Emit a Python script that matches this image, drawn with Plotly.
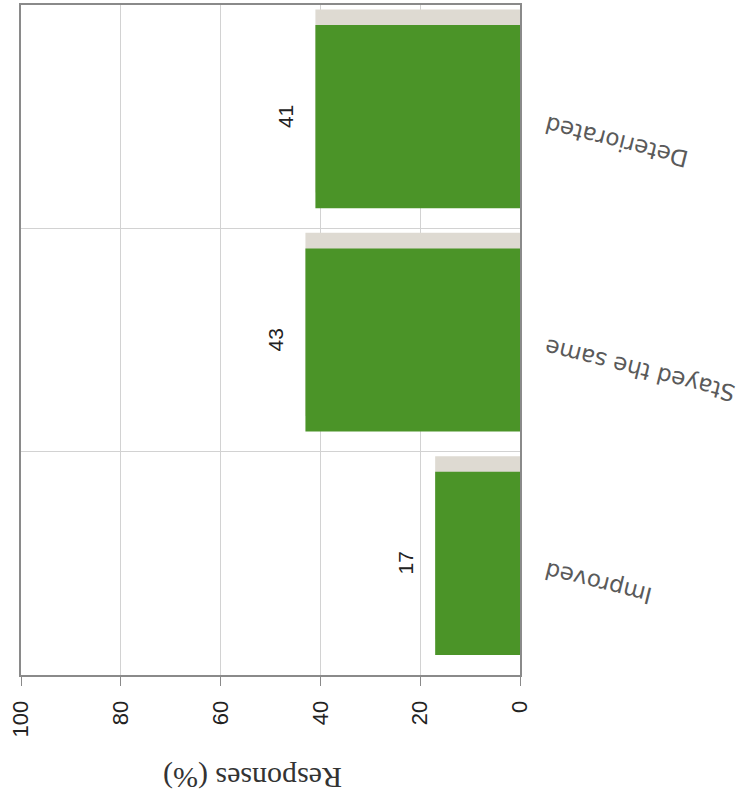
import plotly.graph_objects as go

categories = ["Improved", "Stayed the same", "Deteriorated"]
values = [17, 43, 41]
tick_vals = [0, 20, 40, 60, 80, 100]
axis_title = "Responses (%)"

BAR = "#4b9428"
SHADOW = "#dedad2"
GRID = "#d2d2d2"
LINE = "#8a8a8a"

fig = go.Figure()

# 3D-style depth shadow behind each bar
fig.add_trace(go.Bar(
    y=categories, x=values, orientation="h",
    width=0.82, offset=-0.34,
    marker=dict(color=SHADOW, line=dict(width=0)),
    hoverinfo="skip", showlegend=False,
))
fig.add_trace(go.Bar(
    y=categories, x=values, orientation="h",
    width=0.82, offset=-0.41,
    marker=dict(color=BAR, line=dict(width=0)),
    showlegend=False,
))

# value labels
for c, v in zip(categories, values):
    fig.add_annotation(
        x=v, y=c, xref="x", yref="y", text=str(v), showarrow=False,
        textangle=-90, xshift=-30,
        font=dict(family="Liberation Sans, Arial", size=21, color="#222222"),
    )

# category labels (upside-down, slightly slanted)
for c in categories:
    fig.add_annotation(
        x=1, y=c, xref="x domain", yref="y", text=c, showarrow=False,
        textangle=-166, xanchor="left", yanchor="top", xshift=20, yshift=8,
        font=dict(family="DejaVu Sans", size=23, color="#5a5a5a"),
    )

fig.add_annotation(
    x=0.465, y=0, xref="x domain", yref="y domain", yshift=-103,
    xanchor="center", yanchor="middle",
    text=axis_title, showarrow=False, textangle=180,
    font=dict(family="Liberation Serif, Times New Roman", size=30, color="#333333"),
)

fig.update_layout(
    width=740, height=805,
    margin=dict(l=21, r=220, t=5, b=130),
    paper_bgcolor="white", plot_bgcolor="white",
    barmode="overlay",
    xaxis=dict(
        range=[100, 0], tickvals=tick_vals, tickangle=-90,
        showgrid=True, gridcolor=GRID, gridwidth=1,
        showline=True, linecolor=LINE, linewidth=2, mirror=True,
        ticks="outside", ticklen=9, tickcolor=LINE, tickwidth=1,
        ticklabelstandoff=6,
        zeroline=False, automargin=False,
        tickfont=dict(family="Liberation Sans, Arial", size=22, color="#222222"),
    ),
    yaxis=dict(
        categoryorder="array", categoryarray=categories,
        range=[-0.5, 2.5], side="right",
        tickson="boundaries", showgrid=True, gridcolor=GRID, gridwidth=1,
        showline=True, linecolor=LINE, linewidth=2, mirror=True,
        ticks="", showticklabels=False, automargin=False,
    ),
)

fig.write_html(
    "out.html",
    config={"displayModeBar": False},
    post_script="document.body.style.margin='0';",
)
